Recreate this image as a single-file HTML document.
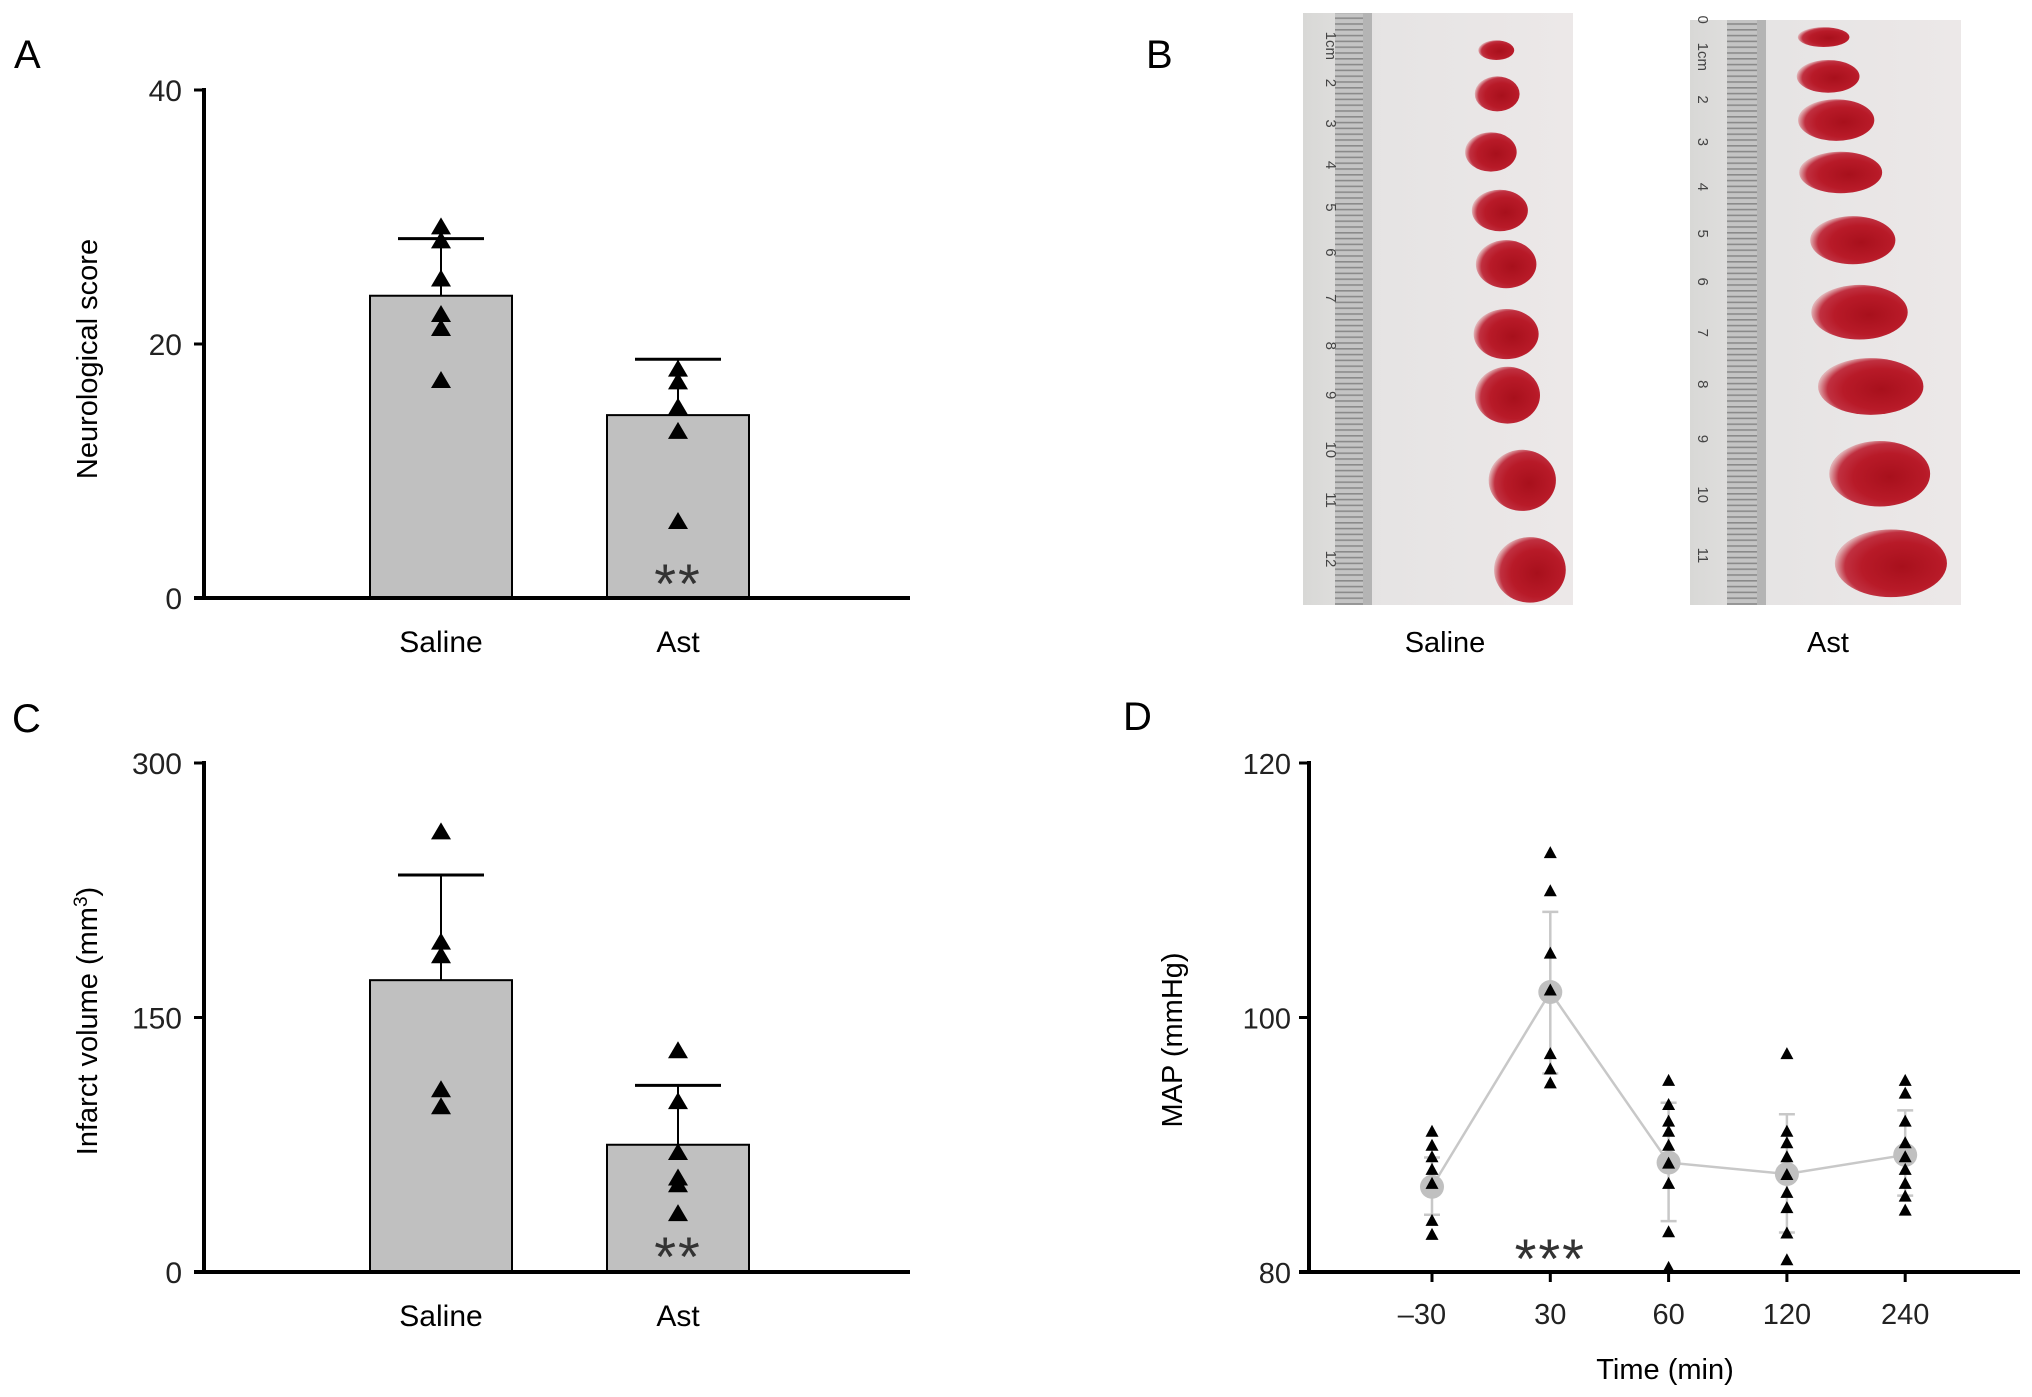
<!DOCTYPE html>
<html><head><meta charset="utf-8">
<style>
html,body{margin:0;padding:0;background:#fff;}
svg{display:block;font-family:"Liberation Sans",Arial,sans-serif;}
</style></head>
<body>
<svg id="fig" width="2032" height="1397" viewBox="0 0 2032 1397" xmlns="http://www.w3.org/2000/svg">
<defs>
  <pattern id="rulerTicks" width="40" height="5.8" patternUnits="userSpaceOnUse">
    <rect width="40" height="5.8" fill="#c4c4c4"/>
    <rect x="0" y="0" width="40" height="1.6" fill="#8a8a8a"/>
  </pattern>
  <linearGradient id="photoBg" x1="0" y1="0" x2="1" y2="0">
    <stop offset="0" stop-color="#d8d8d6"/>
    <stop offset="0.3" stop-color="#e6e4e4"/>
    <stop offset="1" stop-color="#ece8e8"/>
  </linearGradient>
  <radialGradient id="slice" cx="0.6" cy="0.55" r="0.6">
    <stop offset="0" stop-color="#a8101c"/>
    <stop offset="0.6" stop-color="#b81a28"/>
    <stop offset="0.85" stop-color="#c03040"/>
    <stop offset="1" stop-color="#e0b0b4"/>
  </radialGradient>
</defs>

<text x="14" y="68" font-size="40">A</text>
<text x="1146" y="68" font-size="40">B</text>
<text x="12" y="732" font-size="40">C</text>
<text x="1123" y="730" font-size="40">D</text>

<g id="panelA"></g>
<g id="panelC"></g>
<g id="panelD"></g>

<g>
  <g>
    <rect x="1303" y="13" width="270" height="592" fill="url(#photoBg)"/>
    <rect x="1335" y="13" width="36" height="592" fill="url(#rulerTicks)"/>
    <rect x="1363" y="13" width="9" height="592" fill="#b4b4b4"/>
  </g>
  <g>
    <rect x="1690" y="20" width="271" height="585" fill="url(#photoBg)"/>
    <rect x="1727" y="20" width="38" height="585" fill="url(#rulerTicks)"/>
    <rect x="1757" y="20" width="9" height="585" fill="#b4b4b4"/>
  </g>
  <g id="rulerNums" font-size="15" fill="#444"></g>
  <g id="slices"></g>
  <text x="1445" y="652" font-size="29" text-anchor="middle">Saline</text>
  <text x="1828" y="652" font-size="29" text-anchor="middle">Ast</text>
</g>
</svg>
<script>
const NS="http://www.w3.org/2000/svg";
// ---- Panel A data ----
const aCategories=["Saline","Ast"];
const aMeans=[23.8,14.4];
const aErrTop=[28.3,18.8];
const aTicks=[0,20,40];
const aPointsSaline=[29.3,28.2,25.2,22.4,21.3,17.2];
const aPointsAst=[18.1,17.1,15.1,13.2,6.1];
// ---- Panel C data ----
const cCategories=["Saline","Ast"];
const cMeans=[172,75];
const cErrTop=[234,110];
const cTicks=[0,150,300];
const cPointsSaline=[260,195,187,108,98];
const cPointsAst=[131,101,71,56,52,35];
// ---- Panel D data ----
const dCategories=["\u201330","30","60","120","240"];
const dMeans=[86.7,102,88.6,87.7,89.2];
const dErrHi=[89,108.3,93.3,92.4,92.7];
const dErrLo=[84.5,95.6,84.0,83.1,86.0];
const dTicks=[80,100,120];
const dPts0=[91.1,90.0,89.1,88.1,87.0,84.1,83.0];
const dPts1=[113.0,110.0,105.1,102.2,97.2,96.0,94.9];
const dPts2=[95.1,93.2,91.9,91.1,90.0,88.6,87.0,83.2,80.4];
const dPts3=[97.2,91.1,90.2,89.1,87.7,86.3,85.1,83.1,81.0];
const dPts4=[95.1,94.1,91.9,90.2,89.1,88.1,87.0,86.0,84.9];

function mk(tag,attrs,parent){const e=document.createElementNS(NS,tag);for(const k in attrs)e.setAttribute(k,attrs[k]);parent.appendChild(e);return e;}
function tri(parent,cx,cy,w,h,name){
  const p=mk("path",{d:`M${cx-w/2},${cy+h/2}L${cx+w/2},${cy+h/2}L${cx},${cy-h/2}Z`,fill:"#000"},parent);
  
  
}

function barChart(g,opts){
  const {x0,xEnd,yTop,yBot,vmax,cats,means,errs,ticks,pts,barX,barW,capW,title,titleY,stars,superscript,prefix}=opts;
  const y=v=>yBot-(v/vmax)*(yBot-yTop);
  cats.forEach((c,i)=>{
    const cx=barX[i]+barW/2;
    const eb=mk("line",{x1:cx,x2:cx,y1:y(means[i]),y2:y(errs[i]),stroke:"#000","stroke-width":2},g);
    
    
    const cap=mk("line",{x1:cx-capW/2,x2:cx+capW/2,y1:y(errs[i]),y2:y(errs[i]),stroke:"#000","stroke-width":3},g);
    
    
    const r=mk("rect",{x:barX[i],y:y(means[i]),width:barW,height:yBot-y(means[i]),fill:"#c0c0c0",stroke:"#000","stroke-width":2},g);
    
    
    pts[i].forEach(v=>tri(g,cx,y(v),20,17,prefix+'-point-'+c.toLowerCase()));
    const t=mk("text",{x:cx,y:yBot+54,"font-size":30,"text-anchor":"middle"},g);
    t.textContent=c;
    
    
  });
  const st=mk("text",{x:barX[1]+barW/2,y:stars,"font-size":56,"text-anchor":"middle",fill:"#333","letter-spacing":"2"},g);
  st.textContent="**";
  
  
  const ya=mk("line",{x1:x0,x2:x0,y1:yTop-2,y2:yBot+2,stroke:"#000","stroke-width":4},g);
  
  
  const xa=mk("line",{x1:x0-10,x2:xEnd,y1:yBot,y2:yBot,stroke:"#000","stroke-width":4},g);
  
  
  ticks.forEach(v=>{
    mk("line",{x1:x0-10,x2:x0,y1:y(v),y2:y(v),stroke:"#000","stroke-width":3},g);
    const t=mk("text",{x:x0-22,y:y(v)+11,"font-size":30,"text-anchor":"end",fill:"#222"},g);
    t.textContent=v;
    
    
  });
  const tt=mk("text",{x:0,y:0,"font-size":29,"text-anchor":"middle",transform:`translate(97,${titleY}) rotate(-90)`},g);
  tt.textContent=title;
  if(superscript){const s=mk("tspan",{"baseline-shift":"super","font-size":19},tt);s.textContent="3";const s2=mk("tspan",{},tt);s2.textContent=")";}
  
  
}

barChart(document.getElementById("panelA"),{x0:204,xEnd:910,yTop:90,yBot:598,vmax:40,cats:aCategories,means:aMeans,errs:aErrTop,ticks:aTicks,pts:[aPointsSaline,aPointsAst],barX:[370,607],barW:142,capW:86,title:"Neurological score",titleY:359,stars:603,superscript:false,prefix:"a"});
barChart(document.getElementById("panelC"),{x0:204,xEnd:910,yTop:763,yBot:1272,vmax:300,cats:cCategories,means:cMeans,errs:cErrTop,ticks:cTicks,pts:[cPointsSaline,cPointsAst],barX:[370,607],barW:142,capW:86,title:"Infarct volume (mm",titleY:1021,stars:1276,superscript:true,prefix:"c"});

(function(){
  const g=document.getElementById("panelD");
  const x0=1309,xEnd=2020,yTop=763,yBot=1272,vmin=80,vmax=120;
  const y=v=>yBot-(v-vmin)/(vmax-vmin)*(yBot-yTop);
  const xs=i=>1432+i*118.3;
  const pts=[dPts0,dPts1,dPts2,dPts3,dPts4];
  dCategories.forEach((c,i)=>{
    const e=mk("path",{d:`M${xs(i)},${y(dErrLo[i])}V${y(dErrHi[i])}M${xs(i)-8},${y(dErrHi[i])}H${xs(i)+8}M${xs(i)-8},${y(dErrLo[i])}H${xs(i)+8}`,stroke:"#c8c8c8","stroke-width":2.5,fill:"none"},g);
    
    
  });
  const line=mk("polyline",{points:dMeans.map((v,i)=>`${xs(i)},${y(v)}`).join(" "),stroke:"#c8c8c8","stroke-width":2.5,fill:"none"},g);
  
  
  dMeans.forEach((v,i)=>{
    const c=mk("circle",{cx:xs(i),cy:y(v),r:12,fill:"#c0c0c0"},g);
    
    
  });
  pts.forEach((arr,i)=>arr.forEach(v=>tri(g,xs(i),y(v),13,12,'d-point-'+i)));
  const ya=mk("line",{x1:x0,x2:x0,y1:yTop-2,y2:yBot+2,stroke:"#000","stroke-width":4},g);
  
  
  const xa=mk("line",{x1:x0-10,x2:xEnd,y1:yBot,y2:yBot,stroke:"#000","stroke-width":4},g);
  
  
  dTicks.forEach(v=>{
    mk("line",{x1:x0-10,x2:x0,y1:y(v),y2:y(v),stroke:"#000","stroke-width":3},g);
    const t=mk("text",{x:x0-18,y:y(v)+11,"font-size":29,"text-anchor":"end",fill:"#222"},g);
    t.textContent=v;
    
    
  });
  dCategories.forEach((c,i)=>{
    mk("line",{x1:xs(i),x2:xs(i),y1:yBot,y2:yBot+10,stroke:"#000","stroke-width":3},g);
    const t=mk("text",{x:xs(i)+(i==0?-10:0),y:yBot+52,"font-size":29,"text-anchor":"middle",fill:"#222"},g);
    t.textContent=c;
    
    
  });
  const st=mk("text",{x:xs(1),y:1278,"font-size":56,"text-anchor":"middle",fill:"#333","letter-spacing":"2"},g);
  st.textContent="***";
  
  
  const xt=mk("text",{x:1665,y:1379,"font-size":29,"text-anchor":"middle"},g);
  xt.textContent="Time (min)";
  
  
  const yt=mk("text",{x:0,y:0,"font-size":29,"text-anchor":"middle",transform:"translate(1182,1040) rotate(-90)"},g);
  yt.textContent="MAP (mmHg)";
  
  
})();

(function(){
  const g=document.getElementById("slices");
  const L=[[460,115,80,45],[462,215,100,80],[448,348,115,90],[468,482,125,95],[482,605,135,110],[482,765,145,115],[485,905,145,130],[518,1100,150,140],[535,1305,160,150]];
  const R=[[1190,85,115,45],[1200,175,140,75],[1218,275,170,95],[1228,395,185,95],[1255,550,190,110],[1270,715,215,125],[1295,885,235,130],[1315,1085,225,150],[1340,1290,250,155]];
  L.concat(R).forEach((s,i)=>{
    const e=mk("ellipse",{cx:1290+s[0]/2.23,cy:s[1]/2.29,rx:s[2]/2.23/2,ry:s[3]/2.29/2,fill:"url(#slice)"},g);
    
    
  });
  const n=document.getElementById("rulerNums");
  const ln=[["1cm",105],["2",190],["3",283],["4",378],["5",475],["6",578],["7",683],["8",792],["9",905],["10",1030],["11",1145],["12",1280]];
  const rn=[["0",45],["1cm",130],["2",228],["3",325],["4",428],["5",535],["6",645],["7",762],["8",880],["9",1005],["10",1133],["11",1272]];
  ln.forEach(a=>{const t=mk("text",{x:0,y:0,"text-anchor":"middle",transform:`translate(${1290+80/2.23},${a[1]/2.29}) rotate(90)`},n);t.textContent=a[0];
    
    });
  rn.forEach(a=>{const t=mk("text",{x:0,y:0,"text-anchor":"middle",transform:`translate(${1290+910/2.23},${a[1]/2.29}) rotate(90)`},n);t.textContent=a[0];
    
    });
})();
</script>
</body></html>
